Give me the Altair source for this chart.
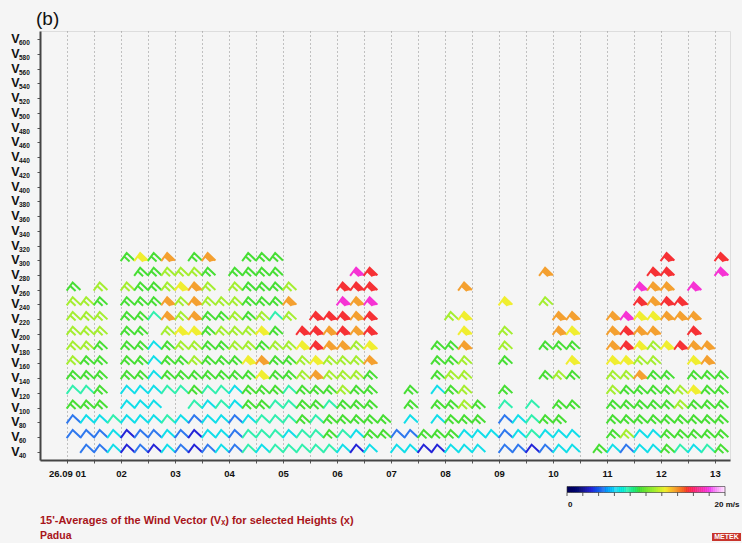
import altair as alt
import pandas as pd

# ---------------- data ----------------
HEIGHTS = [300, 280, 260, 240, 220, 200, 180, 160, 140, 120, 100, 80, 60, 40]
# one character per 15-minute slot starting 01:00; '.' = no value
ROWS = [
    "....gygo.go..ggg............................r...r.",
    ".....gglllg.gggg.....mr............o.......rr...m.",
    "g.l.lgglyol.lgggl...rrr......o............moo.m...",
    "llg.gggololllgggo...mom.........y..l......rorr....",
    "lll.ggtologglgltl.rrror.....ly......oo..omyyooo...",
    "lll.gg.lyyglllyg.rroror......y..l...oy..oroo..r...",
    "llg.ggcgllggllgllyrooly....ggo..l..ggg..orylyroo..",
    "lgg.ggcgglgggyogglylllo....ggl..g....y..yyll..yo..",
    "ggg.ggcgggggggygglolllg....gll.....glg..llogg.ggg.",
    "ttg.cccttgttcgggtggglgg..g.cgl..g.......lgggglygg.",
    "ggg.ccc..tctcggttggtggg..g.gglg.t.t.gg..ggggglggg.",
    "bcctccctcbccbctttgtggggg.c.cggg.bctgg...ggggggggg.",
    "bbbcnbbcbnccbtttcttgtcggbbgggcccbctccc..glccggggg.",
    ".bbcnbncbnbcbtctttttcnc.ccnnccc.bbnbcc.gcbccgtctg.",
]
FIRST_HOUR = 1.0
SLOT_HOURS = 0.25
SPEED_OF = {"n": 3.0, "b": 4.5, "c": 6.3, "t": 7.6, "g": 9.2, "l": 11.0,
            "y": 12.3, "o": 13.6, "r": 15.2, "m": 17.6}

Y_LABEL_HEIGHTS = list(range(40, 620, 20))
GRID_HOURS = [1 + 0.5 * i for i in range(25)]
SPEED_STOPS = [0, 1.5, 3, 4.5, 6, 7.5, 9, 11, 12.3, 13.6, 15, 16.5, 18, 20]
SPEED_COLORS = ["#000000", "#10107a", "#2424d8", "#2f78ee", "#36d8f0", "#38f0b4",
                "#36dc36", "#a4ee30", "#f0ee30", "#f4a030", "#f23a24", "#f03090",
                "#f040f0", "#fff0ff"]
COLORBAR_SPEEDS = [i * 0.25 for i in range(80)]      # colour-bar samples 0..20 m/s
COLORBAR_TICKS = [0, 2, 4, 6, 8, 10, 12, 14, 16, 18, 20]
CAPTION = "15'-Averages of the Wind Vector (V\u2093) for selected Heights (x)"
SITE = "Padua"
PANEL = "(b)"

# ---------------- build table ----------------
records = []
for h, row in zip(HEIGHTS, ROWS):
    row = row.ljust(50, ".")[:50]
    for k, ch in enumerate(row):
        if ch in SPEED_OF:
            s = SPEED_OF[ch]
            kind = "low" if s < 8.5 else ("mid" if s < 12 else "high")
            records.append({"time": FIRST_HOUR + SLOT_HOURS * k, "height": h,
                            "speed": s, "kind": kind})
df = pd.DataFrame(records)
ylab = pd.DataFrame({"height": Y_LABEL_HEIGHTS,
                     "sub": [str(v) for v in Y_LABEL_HEIGHTS]})
cbar = pd.DataFrame({"speed": COLORBAR_SPEEDS})
cticks = pd.DataFrame({"speed": COLORBAR_TICKS})

# ---------------- encodings ----------------
xenc = alt.X("time:Q",
             scale=alt.Scale(domain=[0.5, 13.28], nice=False, zero=False),
             axis=alt.Axis(values=GRID_HOURS, grid=True, gridDash=[1, 3],
                           gridColor="#8a8a8a", gridWidth=1, title=None,
                           labelExpr="datum.value == 1 ? '26.09 01' : (datum.value % 1 == 0 ? (datum.value < 10 ? '0' + datum.value : '' + datum.value) : '')",
                           labelOverlap=False, labelFlush=False,
                           labelFontSize=9.5, labelFontWeight="bold",
                           labelColor="#111", labelPadding=5,
                           tickSize=3, tickColor="#555",
                           domainColor="#444", domainWidth=2))
yenc = alt.Y("height:Q",
             scale=alt.Scale(domain=[29, 611], nice=False, zero=False),
             axis=alt.Axis(values=Y_LABEL_HEIGHTS, labels=False, grid=False,
                           title=None, tickSize=3, tickColor="#555",
                           domainColor="#444", domainWidth=2))
cscale = alt.Scale(domain=SPEED_STOPS, range=SPEED_COLORS)
cenc = alt.Color("speed:Q", scale=cscale, legend=None)

P_LOW = "M-1,0.55 L-0.15,-0.6 L0.95,0.45"
P_MID = "M-1,0.55 L-0.15,-0.6 L0.95,0.45 M-0.49,-0.1 L0.26,0.6"
P_FILL = "M-0.15,-0.6 L0.95,0.45 L0.26,0.6 L-0.49,-0.1 Z"

base = alt.Chart(df)
common = dict(size=200, xOffset=6.75, yOffset=-3, opacity=1)
low = base.transform_filter("datum.kind == 'low'").mark_point(
    shape=P_LOW, filled=False, strokeWidth=2.0, **common
).encode(x=xenc, y=yenc, color=cenc)
mid = base.transform_filter("datum.kind != 'low'").mark_point(
    shape=P_MID, filled=False, strokeWidth=2.0, **common
).encode(x=xenc, y=yenc, color=cenc)
high = base.transform_filter("datum.kind == 'high'").mark_point(
    shape=P_FILL, filled=True, strokeWidth=0, **common
).encode(x=xenc, y=yenc, color=cenc)

vtext = alt.Chart(ylab).mark_text(
    text="V", fontSize=12.5, fontWeight="bold", color="#111",
    align="center", baseline="middle"
).encode(x=alt.value(-24.5), y=yenc)
vsub = alt.Chart(ylab).mark_text(
    fontSize=6.5, fontWeight="bold", color="#111",
    align="left", baseline="middle", yOffset=4
).encode(x=alt.value(-21), y=yenc, text="sub:N")

# colour bar (legend) drawn in pixel space: 0..20 m/s over 158 px
BAR_X0, BAR_W = 527, 158
bar = alt.Chart(cbar).transform_calculate(
    px=f"{BAR_X0} + datum.speed * {BAR_W / 20}",
    px2=f"{BAR_X0} + (datum.speed + 0.25) * {BAR_W / 20} + 0.4",
).mark_rect().encode(
    x=alt.X("px:Q", scale=None, axis=None), x2="px2:Q",
    y=alt.value(455.5), y2=alt.value(461.5),
    color=alt.Color("speed:Q", scale=cscale, legend=None),
)
bar_frame = alt.Chart(pd.DataFrame({"t": [0]})).mark_rect(
    fill=None, stroke="#333", strokeWidth=0.6
).encode(x=alt.value(BAR_X0), x2=alt.value(BAR_X0 + BAR_W),
         y=alt.value(455.5), y2=alt.value(461.5))
ticks = alt.Chart(cticks).transform_calculate(
    px=f"{BAR_X0} + datum.speed * {BAR_W / 20}"
).mark_rule(color="#333", strokeWidth=0.8).encode(
    x=alt.X("px:Q", scale=None, axis=None),
    y=alt.value(461.5), y2=alt.value(465),
)
bar_lab0 = alt.Chart(pd.DataFrame({"t": ["0"]})).mark_text(
    fontSize=8, fontWeight="bold", color="#111", align="left", baseline="middle"
).encode(x=alt.value(BAR_X0 + 1), y=alt.value(474), text="t:N")
bar_lab1 = alt.Chart(pd.DataFrame({"t": ["20 m/s"]})).mark_text(
    fontSize=8, fontWeight="bold", color="#111", align="center", baseline="middle"
).encode(x=alt.value(BAR_X0 + BAR_W + 2), y=alt.value(474), text="t:N")

panel = alt.Chart(pd.DataFrame({"t": [PANEL]})).mark_text(
    fontSize=19, align="left", baseline="middle", color="#111"
).encode(x=alt.value(-4), y=alt.value(-12), text="t:N")
cap = alt.Chart(pd.DataFrame({"t": [CAPTION]})).mark_text(
    fontSize=11, fontWeight="bold", align="left", baseline="middle", color="#a8141a"
).encode(x=alt.value(0), y=alt.value(490), text="t:N")
site = alt.Chart(pd.DataFrame({"t": [SITE]})).mark_text(
    fontSize=10.5, fontWeight="bold", align="left", baseline="middle", color="#a8141a"
).encode(x=alt.value(0), y=alt.value(505), text="t:N")
logo_box = alt.Chart(pd.DataFrame({"t": ["METEK"]})).mark_rect(
    color="#c8342c"
).encode(x=alt.value(672), x2=alt.value(701), y=alt.value(502), y2=alt.value(510))
logo_txt = alt.Chart(pd.DataFrame({"t": ["METEK"]})).mark_text(
    fontSize=7, fontWeight="bold", color="#ffffff", align="center", baseline="middle"
).encode(x=alt.value(686.5), y=alt.value(506), text="t:N")

chart = alt.layer(
    low, mid, high, vtext, vsub, bar, bar_frame, ticks, bar_lab0, bar_lab1,
    panel, cap, site, logo_box, logo_txt
).properties(
    width=690, height=429,
    autosize=alt.AutoSizeParams(type="none"),
    padding={"left": 40, "top": 31, "right": 12, "bottom": 83},
    background="#f5f5f5",
).configure_view(
    fill="#fbfbfb", stroke="#555", strokeWidth=1.5
).configure(font="Liberation Sans")

chart.save("out.html", embed_options={"renderer": "svg", "actions": False})
